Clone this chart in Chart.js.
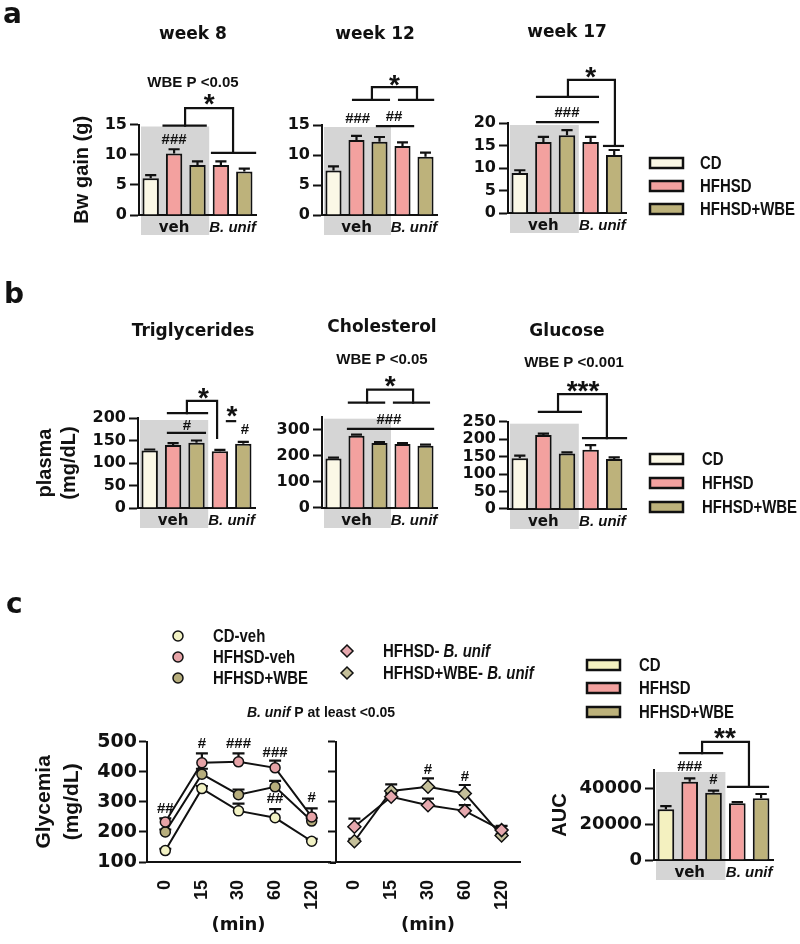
<!DOCTYPE html>
<html>
<head>
<meta charset="utf-8">
<script src="https://cdn.jsdelivr.net/npm/chart.js@4.4.1/dist/chart.umd.min.js"></script>
<style>
  html, body { margin: 0; padding: 0; background: #fff; }
  #wrap { position: relative; width: 800px; height: 944px; }
  #wrap canvas { position: absolute; left: 0; top: 0; }
</style>
</head>
<body>
<div id="wrap">
  <canvas id="w8" width="800" height="944"></canvas>
  <canvas id="w12" width="800" height="944"></canvas>
  <canvas id="w17" width="800" height="944"></canvas>
  <canvas id="tri" width="800" height="944"></canvas>
  <canvas id="chol" width="800" height="944"></canvas>
  <canvas id="glu" width="800" height="944"></canvas>
  <canvas id="gtt1" width="800" height="944"></canvas>
  <canvas id="gtt2" width="800" height="944"></canvas>
  <canvas id="auc" width="800" height="944"></canvas>
</div>
<script>
// ---- data ----
const groups = ['CD', 'HFHSD', 'HFHSD+WBE', 'HFHSD', 'HFHSD+WBE'];
const treatments = ['veh', 'B. unif'];
const dietLegend = ['CD', 'HFHSD', 'HFHSD+WBE'];

const bwTicks15 = [0, 5, 10, 15];
const bwTicks20 = [0, 5, 10, 15, 20];
const bwWeek8 = [6.1, 10.2, 8.3, 8.3, 7.2];
const bwWeek8Sem = [0.5, 0.7, 0.6, 0.6, 0.5];
const bwWeek12 = [7.4, 12.5, 12.2, 11.5, 9.7];
const bwWeek12Sem = [0.7, 0.7, 0.8, 0.6, 0.7];
const bwWeek17 = [8.9, 15.8, 17.3, 15.8, 12.9];
const bwWeek17Sem = [0.6, 1.1, 1.1, 1.1, 1.1];

const triglycerideTicks = [0, 50, 100, 150, 200];
const triglycerides = [128, 140, 145, 126, 143];
const triglyceridesSem = [2, 4, 5, 3, 4];
const cholesterolTicks = [0, 100, 200, 300];
const cholesterol = [190, 277, 249, 245, 239];
const cholesterolSem = [3, 4, 4, 4, 4];
const glucoseTicks = [0, 50, 100, 150, 200, 250];
const glucose = [145, 212, 159, 170, 143];
const glucoseSem = [8, 4, 3, 13, 5];

const gttTimes = ['0', '15', '30', '60', '120'];
const gttTicks = [100, 200, 300, 400, 500];
const gttLabels = ['CD-veh', 'HFHSD-veh', 'HFHSD+WBE', 'HFHSD- B. unif', 'HFHSD+WBE- B. unif'];
const gttCdVeh = [138, 344, 270, 247, 169];
const gttCdVehSem = [6, 8, 24, 29, 8];
const gttHfhsdVeh = [233, 430, 433, 413, 250];
const gttHfhsdVehSem = [12, 31, 28, 24, 28];
const gttWbeVeh = [200, 392, 324, 350, 236];
const gttWbeVehSem = [8, 18, 17, 20, 10];
const gttHfhsdBunif = [217, 317, 289, 270, 206];
const gttHfhsdBunifSem = [27, 10, 22, 19, 14];
const gttWbeBunif = [169, 336, 350, 328, 188];
const gttWbeBunifSem = [8, 22, 28, 28, 6];

const aucTicks = [0, 20000, 40000];
const gttAuc = [28150, 43500, 37400, 31500, 34260];
const gttAucSem = [1800, 1900, 1100, 700, 2400];

// ---- styles ----
const INK = '#111111';
const SHADE = '#d5d5d5';
const CD_COL = '#fbf8e6', HF_COL = '#f3a19f', WBE_COL = '#bdb27b';
const barColors = [CD_COL, HF_COL, WBE_COL, HF_COL, WBE_COL];
const aucColors = ['#f4f1c0', HF_COL, WBE_COL, HF_COL, WBE_COL];
const gttColors = ['#f2f2c4', '#e6a3a7', '#b6ad7c', '#e6a8ae', '#c5c09a'];

const ARIAL = "'Liberation Sans', Arial, sans-serif";
const WIDE = "'DejaVu Sans', sans-serif";
const LEGEND_FONT = 'bold 18px ' + ARIAL;
const LEGEND_SX = 0.83; // legend lettering is condensed in the figure
const HASH_FONT = 'bold 15px ' + ARIAL;
const STAR_FONT = 'bold 28px ' + ARIAL;

// significance marks, in (category index, data value)
const hline = (i1, i2, v) => [[i1, v], [i2, v]];
const bracket = (iL, iR, top, bL, bR) => [[iL, bL], [iL, top], [iR, top], [iR, bR]];

const decor = {
  w8: {
    values: bwWeek8, sem: bwWeek8Sem, shade: true,
    letter: ['a', 3, 23], title: ['week 8', 193, 35], note: ['WBE P <0.05', 193, 83],
    lines: [hline(0.55, 2.35, 14.8), bracket(1.47, 3.52, 17.7, 14.8, 10.3), hline(2.62, 4.46, 10.3)],
    texts: [['*', 2.5, 19.4], ['###', 1, 12.4]]
  },
  w12: {
    values: bwWeek12, sem: bwWeek12Sem, shade: true,
    title: ['week 12', 375, 35],
    lines: [hline(0.85, 2.41, 19.2), hline(2.85, 4.33, 19.2), bracket(1.67, 3.63, 21.3, 19.2, 19.2),
            hline(1.89, 3.46, 14.8)],
    texts: [['*', 2.65, 22.6], ['###', 1.05, 16.0], ['##', 2.63, 16.3]]
  },
  w17: {
    values: bwWeek17, sem: bwWeek17Sem, shade: true,
    title: ['week 17', 567, 33],
    legend: { x: 650, textX: 700, ys: [163, 186, 209], colors: barColors },
    lines: [hline(0.73, 3.31, 25.8), bracket(2.04, 4.03, 29.6, 25.8, 14.9), hline(3.57, 4.37, 14.9),
            hline(0.73, 3.31, 20.2)],
    texts: [['*', 3.0, 31.6], ['###', 2.0, 22.2]]
  },
  tri: {
    values: triglycerides, sem: triglyceridesSem, shade: true,
    letter: ['b', 4, 303], title: ['Triglycerides', 193, 332],
    lines: [hline(0.78, 2.45, 211), bracket(1.59, 2.88, 238, 211, 156), hline(0.78, 2.36, 167),
            hline(3.3, 3.65, 193)],
    texts: [['*', 2.3, 258], ['#', 1.59, 182], ['*', 3.52, 218], ['#', 4.07, 173]]
  },
  chol: {
    values: cholesterol, sem: cholesterolSem, shade: true,
    title: ['Cholesterol', 382, 328], note: ['WBE P <0.05', 382, 360],
    lines: [hline(0.67, 2.2, 404), hline(2.63, 4.15, 404), bracket(1.46, 3.46, 454, 404, 404),
            hline(0.63, 4.33, 303)],
    texts: [['*', 2.46, 489], ['###', 2.41, 338]]
  },
  glu: {
    values: glucose, sem: glucoseSem, shade: true,
    title: ['Glucose', 567, 332], note: ['WBE P <0.001', 574, 363],
    legend: { x: 650, textX: 702, ys: [459, 483, 507], colors: barColors },
    lines: [hline(0.81, 2.59, 278), bracket(1.62, 3.69, 329, 278, 203), hline(2.68, 4.5, 203)],
    texts: [['***', 2.68, 355]]
  },
  auc: {
    values: gttAuc, sem: gttAucSem, shade: true,
    legend: { x: 587, textX: 639, ys: [665, 688, 712], colors: aucColors },
    lines: [hline(0.59, 2.36, 59400), bracket(1.52, 3.49, 65600, 59400, 40600), hline(2.61, 4.29, 40600)],
    texts: [['**', 2.48, 71100], ['###', 1, 51700], ['#', 2, 44400]]
  },
  gtt1: {
    lineSem: [gttCdVehSem, gttHfhsdVehSem, gttWbeVehSem],
    letter: ['c', 6, 613], extendAxis: 336,
    richNote: { x: 321, y: 713 },
    markerLegend: true,
    lines: [],
    texts: [['##', 0, 277], ['#', 1, 493], ['###', 2, 493], ['###', 3, 463], ['##', 3, 310], ['#', 4, 313]]
  },
  gtt2: {
    lineSem: [gttHfhsdBunifSem, gttWbeBunifSem],
    lines: [],
    texts: [['#', 2, 407], ['#', 3, 383]]
  }
};

function poly(ctx, pts) {
  ctx.beginPath();
  pts.forEach(([px, py], k) => (k ? ctx.lineTo(px, py) : ctx.moveTo(px, py)));
  ctx.stroke();
}

function errBar(ctx, cx, yFrom, yTo, half) {
  ctx.beginPath();
  ctx.moveTo(cx, yFrom); ctx.lineTo(cx, yTo);
  ctx.moveTo(cx - half, yTo); ctx.lineTo(cx + half, yTo);
  ctx.stroke();
}

function drawText(ctx, s, x, y, font, align, base) {
  ctx.font = font; ctx.textAlign = align || 'center'; ctx.textBaseline = base || 'middle';
  ctx.fillText(s, x, y);
}

// left-aligned, horizontally condensed legend text; returns its width
function legendText(ctx, s, x, y, font) {
  ctx.save();
  ctx.translate(x, y);
  ctx.scale(LEGEND_SX, 1);
  drawText(ctx, s, 0, 0, font, 'left');
  const w = ctx.measureText(s).width * LEGEND_SX;
  ctx.restore();
  return w;
}

const panelDecor = {
  id: 'panelDecor',
  beforeDraw(chart) {
    const d = decor[chart.canvas.id];
    if (!d || !d.shade) return;
    const { ctx, chartArea: a, scales: { x } } = chart;
    const half = (x.getPixelForValue(1) - x.getPixelForValue(0)) / 2;
    const left = x.getPixelForValue(0) - half + 2;
    const right = x.getPixelForValue(2) + half;
    ctx.save();
    ctx.fillStyle = SHADE;
    ctx.fillRect(left, a.top + 2, right - left, a.bottom - a.top + 18);
    ctx.restore();
  },
  beforeDatasetsDraw(chart) {
    const d = decor[chart.canvas.id];
    if (!d || !d.lineSem) return;
    const { ctx, scales: { y } } = chart;
    ctx.save();
    ctx.strokeStyle = INK; ctx.lineWidth = 2.2;
    d.lineSem.forEach((sem, k) => {
      const meta = chart.getDatasetMeta(k);
      const vals = chart.data.datasets[k].data;
      meta.data.forEach((pt, i) => errBar(ctx, pt.x, pt.y, y.getPixelForValue(vals[i] + sem[i]), 6));
    });
    ctx.restore();
  },
  afterDatasetsDraw(chart) {
    const d = decor[chart.canvas.id];
    if (!d) return;
    const { ctx, chartArea: a, scales: { x, y } } = chart;
    ctx.save();
    ctx.strokeStyle = INK; ctx.fillStyle = INK;

    // error bars on bars
    if (d.sem) {
      ctx.lineWidth = 2.2;
      chart.getDatasetMeta(0).data.forEach((bar, i) => {
        errBar(ctx, bar.x, bar.y, y.getPixelForValue(d.values[i] + d.sem[i]), bar.width * 0.34);
      });
    }
    // group labels under the axis
    if (d.shade) {
      drawText(ctx, treatments[0], x.getPixelForValue(1), a.bottom + 13, 'bold 15px ' + WIDE);
      drawText(ctx, treatments[1], x.getPixelForValue(3.5), a.bottom + 13, 'italic bold 15px ' + ARIAL);
    }
    // significance brackets and marks
    ctx.lineWidth = 2.2; ctx.lineJoin = 'miter'; ctx.lineCap = 'square';
    d.lines.forEach(pl => poly(ctx, pl.map(([i, v]) => [x.getPixelForValue(i), y.getPixelForValue(v)])));
    d.texts.forEach(([s, i, v]) => {
      const px = x.getPixelForValue(i), py = y.getPixelForValue(v);
      if (s[0] === '*') drawText(ctx, s, px, py + 15, STAR_FONT, 'center', 'alphabetic');
      else drawText(ctx, s, px, py, HASH_FONT);
    });
    // panel texts
    if (d.letter) drawText(ctx, d.letter[0], d.letter[1], d.letter[2], 'bold 28px ' + WIDE, 'left', 'alphabetic');
    if (d.title) drawText(ctx, d.title[0], d.title[1], d.title[2], 'bold 17px ' + WIDE);
    if (d.note) drawText(ctx, d.note[0], d.note[1], d.note[2], 'bold 15px ' + ARIAL);
    if (d.legend) {
      const L = d.legend;
      L.ys.forEach((yy, k) => {
        ctx.fillStyle = L.colors[k];
        ctx.fillRect(L.x, yy - 5, 33, 10);
        ctx.lineWidth = 2.5; ctx.strokeStyle = INK;
        ctx.strokeRect(L.x, yy - 5, 33, 10);
        ctx.fillStyle = INK;
        legendText(ctx, dietLegend[k], L.textX, yy + 1, LEGEND_FONT);
      });
    }
    if (d.extendAxis) {
      ctx.lineWidth = 2; ctx.lineCap = 'butt';
      poly(ctx, [[a.right, a.bottom + 1], [d.extendAxis, a.bottom + 1]]);
    }
    if (d.richNote) {
      const f1 = 'italic bold 14px ' + ARIAL, f2 = 'bold 14px ' + ARIAL;
      const t1 = 'B. unif', t2 = ' P at least <0.05';
      ctx.font = f1; const w1 = ctx.measureText(t1).width;
      ctx.font = f2; const w2 = ctx.measureText(t2).width;
      const x0 = d.richNote.x - (w1 + w2) / 2;
      drawText(ctx, t1, x0, d.richNote.y, f1, 'left');
      drawText(ctx, t2, x0 + w1, d.richNote.y, f2, 'left');
    }
    if (d.markerLegend) {
      const rows = [
        { k: 0, x: 178, y: 636, tx: 213 }, { k: 1, x: 178, y: 657, tx: 213 }, { k: 2, x: 178, y: 678, tx: 213 },
        { k: 3, x: 347, y: 651, tx: 383 }, { k: 4, x: 347, y: 673, tx: 383 }
      ];
      rows.forEach(r => {
        ctx.fillStyle = gttColors[r.k]; ctx.strokeStyle = INK; ctx.lineWidth = 1.5;
        ctx.beginPath();
        if (r.k < 3) ctx.arc(r.x, r.y, 5, 0, Math.PI * 2);
        else { ctx.moveTo(r.x, r.y - 6); ctx.lineTo(r.x + 6, r.y); ctx.lineTo(r.x, r.y + 6); ctx.lineTo(r.x - 6, r.y); ctx.closePath(); }
        ctx.fill(); ctx.stroke();
        ctx.fillStyle = INK;
        const label = gttLabels[r.k];
        const cut = label.indexOf(' B. unif');
        if (cut < 0) legendText(ctx, label, r.tx, r.y + 1, LEGEND_FONT);
        else {
          const w = legendText(ctx, label.slice(0, cut + 1), r.tx, r.y + 1, LEGEND_FONT);
          legendText(ctx, label.slice(cut + 1), r.tx + w, r.y + 1, 'italic ' + LEGEND_FONT);
        }
      });
    }
    ctx.restore();
  }
};

function yTitle(text, pad, size, lh) {
  return {
    display: !!text, text: text, color: INK,
    font: { family: ARIAL, weight: 'bold', size: size || 20, lineHeight: lh || 1.2 },
    padding: { top: pad, bottom: 0 }
  };
}

function barChart(id, area, values, colors, yMax, yTicks, title, tickSize) {
  return new Chart(document.getElementById(id), {
    type: 'bar',
    data: {
      labels: groups,
      datasets: [{
        data: values, backgroundColor: colors, borderColor: INK, borderWidth: 2,
        barPercentage: 0.7, categoryPercentage: 1
      }]
    },
    options: {
      responsive: false, animation: false, events: [],
      layout: { padding: { left: 0, top: area.t, right: 800 - area.r, bottom: 0 } },
      plugins: { legend: { display: false }, tooltip: { enabled: false } },
      scales: {
        x: {
          offset: true,
          ticks: { display: false },
          grid: { display: false, drawTicks: false },
          border: { color: INK, width: 2 },
          afterFit: s => { s.height = 944 - area.b; }
        },
        y: {
          min: 0, max: yMax,
          ticks: { color: INK, padding: 3, autoSkip: false, callback: v => String(v),
                   font: { family: WIDE, weight: 'bold', size: tickSize || 16 } },
          afterBuildTicks: s => { s.ticks = yTicks.map(v => ({ value: v })); },
          grid: { drawOnChartArea: false, tickLength: 9, tickColor: INK, tickWidth: 2 },
          border: { color: INK, width: 2 },
          title: title || { display: false },
          afterFit: s => { s.width = area.l; }
        }
      }
    },
    plugins: [panelDecor]
  });
}

function gttChart(id, area, series, showTicks, title) {
  return new Chart(document.getElementById(id), {
    type: 'line',
    data: {
      labels: gttTimes,
      datasets: series.map(s => ({
        label: gttLabels[s.k], data: s.data, order: s.order,
        borderColor: INK, borderWidth: 2, tension: 0,
        pointStyle: s.k < 3 ? 'circle' : 'rectRot', pointRadius: s.k < 3 ? 5 : 6.5,
        pointBackgroundColor: gttColors[s.k], pointBorderColor: INK, pointBorderWidth: 1.5
      }))
    },
    options: {
      responsive: false, animation: false, events: [],
      layout: { padding: { left: 0, top: area.t, right: 800 - area.r, bottom: 0 } },
      plugins: { legend: { display: false }, tooltip: { enabled: false } },
      scales: {
        x: {
          offset: true,
          ticks: { minRotation: 90, maxRotation: 90, autoSkip: false, padding: 18, color: INK,
                   font: { family: ARIAL, weight: 'bold', size: 18 } },
          grid: { display: false, drawTicks: false },
          border: { color: INK, width: 2 },
          title: { display: true, text: '(min)', color: INK,
                   font: { family: WIDE, weight: 'bold', size: 18 }, padding: { top: 0, bottom: 8 } },
          afterFit: s => { s.height = 944 - area.b; }
        },
        y: {
          min: 100, max: 500,
          ticks: { display: showTicks, autoSkip: false, color: INK, padding: 2, callback: v => String(v),
                   font: { family: WIDE, weight: 'bold', size: 19 } },
          afterBuildTicks: s => { s.ticks = gttTicks.map(v => ({ value: v })); },
          grid: { drawOnChartArea: false, tickLength: 8, tickColor: INK, tickWidth: 2 },
          border: { color: INK, width: 2 },
          title: title || { display: false },
          afterFit: s => { s.width = area.l; }
        }
      }
    },
    plugins: [panelDecor]
  });
}

// panel a
barChart('w8', { l: 139, r: 256, t: 124.5, b: 215 }, bwWeek8, barColors, 15, bwTicks15, yTitle('Bw gain (g)', 70));
barChart('w12', { l: 322, r: 437, t: 125, b: 215 }, bwWeek12, barColors, 15, bwTicks15);
barChart('w17', { l: 508, r: 626, t: 123, b: 213 }, bwWeek17, barColors, 20, bwTicks20);
// panel b
barChart('tri', { l: 138, r: 255, t: 418, b: 508 }, triglycerides, barColors, 200, triglycerideTicks,
         yTitle(['plasma', '(mg/dL)'], 33));
barChart('chol', { l: 322, r: 437, t: 416.7, b: 508 }, cholesterol, barColors, 350, cholesterolTicks);
barChart('glu', { l: 508, r: 626, t: 421.7, b: 509 }, glucose, barColors, 250, glucoseTicks);
// panel c
gttChart('gtt1', { l: 147, r: 330, t: 741.7, b: 862 }, [
  { k: 0, data: gttCdVeh, order: 3 },
  { k: 1, data: gttHfhsdVeh, order: 1 },
  { k: 2, data: gttWbeVeh, order: 2 }
], true, yTitle(['Glycemia', '(mg/dL)'], 31, 21, 1.3));
gttChart('gtt2', { l: 336, r: 520, t: 741.7, b: 862 }, [
  { k: 3, data: gttHfhsdBunif, order: 1 },
  { k: 4, data: gttWbeBunif, order: 2 }
], false);
barChart('auc', { l: 654, r: 773, t: 770, b: 860 }, gttAuc, aucColors, 50000, aucTicks, yTitle('AUC', 548), 18);
</script>
</body>
</html>
